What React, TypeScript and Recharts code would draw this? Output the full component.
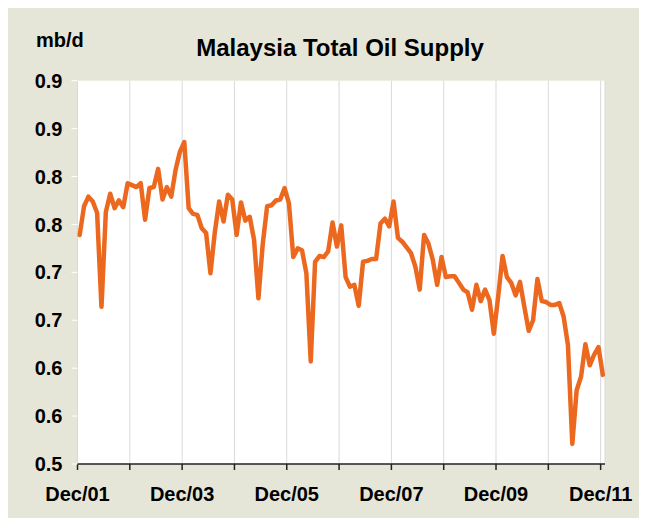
import React from "react";
import { LineChart, Line, XAxis, YAxis, CartesianGrid } from "recharts";

// Malaysia total oil supply, monthly Dec/01 .. Dec/11 (mb/d)
const supply: number[] = [
  0.739, 0.769, 0.779, 0.774, 0.762, 0.664, 0.763, 0.782, 0.767, 0.775,
  0.768, 0.793, 0.791, 0.789, 0.793, 0.755, 0.788, 0.789, 0.808, 0.776,
  0.789, 0.779, 0.807, 0.826, 0.836, 0.767, 0.761, 0.760, 0.746, 0.741,
  0.699, 0.742, 0.774, 0.753, 0.781, 0.776, 0.739, 0.773, 0.754, 0.758,
  0.734, 0.673, 0.730, 0.769, 0.770, 0.775, 0.776, 0.788, 0.772, 0.716,
  0.725, 0.723, 0.699, 0.607, 0.711, 0.717, 0.716, 0.722, 0.752, 0.727,
  0.749, 0.695, 0.685, 0.687, 0.665, 0.711, 0.712, 0.714, 0.714, 0.751,
  0.756, 0.748, 0.774, 0.736, 0.732, 0.726, 0.720, 0.706, 0.682, 0.739,
  0.730, 0.713, 0.687, 0.716, 0.695, 0.696, 0.696, 0.689, 0.682, 0.679,
  0.661, 0.687, 0.670, 0.682, 0.671, 0.636, 0.675, 0.717, 0.695, 0.689,
  0.676, 0.690, 0.664, 0.639, 0.650, 0.693, 0.670, 0.669, 0.666, 0.666,
  0.668, 0.654, 0.624, 0.521, 0.577, 0.591, 0.625, 0.603, 0.614, 0.622,
  0.593,
];

const xTicks: number[] = [0, 12, 24, 36, 48, 60, 72, 84, 96, 108, 120];
const xTickLabels: string[] = ["Dec/01", "", "Dec/03", "", "Dec/05", "", "Dec/07", "", "Dec/09", "", "Dec/11"];
const yTicks: number[] = [0.5, 0.55, 0.6, 0.65, 0.7, 0.75, 0.8, 0.85, 0.9];
const yTickLabels: string[] = ["0.5", "0.6", "0.6", "0.7", "0.7", "0.8", "0.8", "0.9", "0.9"];

const title = "Malaysia Total Oil Supply";
const unit = "mb/d";

const data = supply.map((v, i) => ({ t: i + 0.5, v }));

const FONT = "'Liberation Sans', Arial, sans-serif";
const BG = "#E6E6D8";
const LINE = "#EC681E";

export default function App() {
  return (
    <div style={{ position: "relative", width: 639, height: 510, background: BG, fontFamily: FONT }}>
      <div
        style={{
          position: "absolute",
          left: 132,
          width: 400,
          top: 28,
          textAlign: "center",
          fontSize: 24,
          lineHeight: "24px",
          fontWeight: "bold",
          color: "#000",
        }}
      >
        {title}
      </div>
      <div
        style={{
          position: "absolute",
          left: 28,
          top: 22,
          fontSize: 20,
          lineHeight: "20px",
          fontWeight: "bold",
          color: "#000",
        }}
      >
        {unit}
      </div>
      <LineChart
        width={639}
        height={510}
        data={data}
        margin={{ top: 72.7, right: 42, bottom: 0, left: 0 }}
      >
        <CartesianGrid horizontal={false} vertical={true} stroke="#D9D9D9" fill="#FFFFFF" />
        <XAxis
          type="number"
          dataKey="t"
          domain={[0, 121]}
          ticks={xTicks}
          interval={0}
          tickFormatter={(v: number) => xTickLabels[xTicks.indexOf(v)] ?? ""}
          height={54}
          tickSize={6}
          tickMargin={17}
          axisLine={{ stroke: "#222", strokeWidth: 1.5 }}
          tickLine={{ stroke: "#222", strokeWidth: 1.5 }}
          tick={{ fill: "#000", fontSize: 20, fontWeight: "bold", fontFamily: FONT }}
        />
        <YAxis
          type="number"
          domain={[0.5, 0.9]}
          ticks={yTicks}
          interval={0}
          width={69.5}
          tickFormatter={(v: number) => yTickLabels[yTicks.indexOf(v)] ?? ""}
          axisLine={false}
          tickSize={6}
          tickMargin={9}
          tickLine={{ stroke: "#FFFFFF", strokeWidth: 1 }}
          tick={{ fill: "#000", fontSize: 20, fontWeight: "bold", fontFamily: FONT }}
        />
        <Line
          type="linear"
          dataKey="v"
          stroke={LINE}
          strokeWidth={4.5}
          dot={false}
          isAnimationActive={false}
          strokeLinejoin="round"
          strokeLinecap="round"
        />
      </LineChart>
    </div>
  );
}
